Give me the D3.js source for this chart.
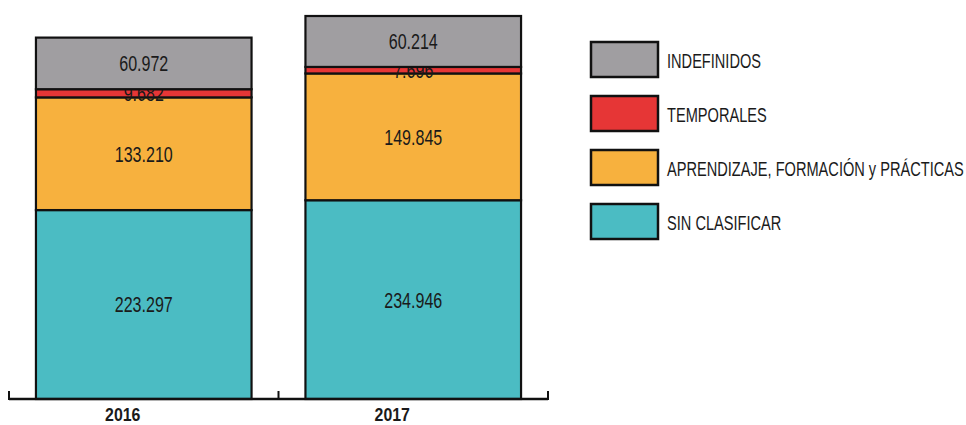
<!DOCTYPE html>
<html>
<head>
<meta charset="utf-8">
<script src="https://cdn.jsdelivr.net/npm/d3@7"></script>
<style>
  html, body { margin: 0; padding: 0; background: #fff; }
  svg { display: block; }
  text { font-family: "Liberation Sans", Arial, sans-serif; fill: #1a1a1a; }
</style>
</head>
<body>
<svg id="chart" width="966" height="425"></svg>
<script>
// Contratos por tipo, 2016–2017
const years = ["2016", "2017"];
const seriesKeys = ["sinClasificar", "aprendizaje", "temporales", "indefinidos"];
const seriesNames = ["SIN CLASIFICAR", "APRENDIZAJE, FORMACIÓN y PRÁCTICAS", "TEMPORALES", "INDEFINIDOS"];
const seriesColors = ["#4bbcc3", "#f7b13e", "#e63636", "#a09ea1"];
const sinClasificar = [223.297, 234.946];
const aprendizaje = [133.210, 149.845];
const temporales = [9.682, 7.696];
const indefinidos = [60.972, 60.214];

const rows = years.map((y, i) => ({
  year: y,
  sinClasificar: sinClasificar[i],
  aprendizaje: aprendizaje[i],
  temporales: temporales[i],
  indefinidos: indefinidos[i]
}));

const fmt = v => v.toFixed(3);
// narrow lettering: horizontal squeeze applied to the text glyphs
const NARROW = 0.73;

const svg = d3.select("#chart");

const axisLeft = 9, axisRight = 548, baseY = 399, topY = 16;

const x = d3.scaleBand().domain(years).range([axisLeft, axisRight]).padding(0);
const barW = x.bandwidth() * 0.8;

const stacked = d3.stack().keys(seriesKeys)(rows);
const totals = rows.map(r => d3.sum(seriesKeys, k => r[k]));

const y = d3.scaleLinear().domain([0, d3.max(totals)]).range([baseY, topY]);

const color = d3.scaleOrdinal().domain(seriesKeys).range(seriesColors);

// stacked segments
const layers = svg.append("g").selectAll("g")
  .data(stacked)
  .join("g")
  .attr("fill", d => color(d.key));

layers.selectAll("rect")
  .data(d => d.map(s => ({ s, key: d.key })))
  .join("rect")
  .attr("x", d => x(d.s.data.year) + (x.bandwidth() - barW) / 2)
  .attr("width", barW)
  .attr("y", d => y(d.s[1]))
  .attr("height", d => y(d.s[0]) - y(d.s[1]))
  .attr("stroke", "#111")
  .attr("stroke-width", 2.2);

// value labels
layers.selectAll("text")
  .data(d => d.map(s => ({ s, key: d.key })))
  .join("text")
  .attr("transform", d => `translate(${x(d.s.data.year) + x.bandwidth() / 2},${(y(d.s[0]) + y(d.s[1])) / 2}) scale(${NARROW},1)`)
  .attr("dy", "0.36em")
  .attr("text-anchor", "middle")
  .attr("font-size", 22)
  .text(d => fmt(d.s[1] - d.s[0]));

// category axis along the base
const axis = d3.axisBottom(x).tickSize(0).tickFormat("");
const axisG = svg.append("g").attr("transform", `translate(0,${baseY})`).call(axis);
axisG.select(".domain").remove();
axisG.append("line")
  .attr("x1", axisLeft).attr("x2", axisRight)
  .attr("stroke", "#111").attr("stroke-width", 2.5);
const bounds = [axisLeft, ...years.map(yr => x(yr) + x.bandwidth())];
axisG.selectAll(".sep")
  .data(bounds)
  .join("line")
  .attr("class", "sep")
  .attr("x1", d => d).attr("x2", d => d)
  .attr("y1", -8).attr("y2", 1)
  .attr("stroke", "#111").attr("stroke-width", 2);

axisG.selectAll(".yr")
  .data(years)
  .join("text")
  .attr("class", "yr")
  .attr("transform", d => `translate(${x(d) + x.bandwidth() / 2 - 21},21.5) scale(0.86,1)`)
  .attr("text-anchor", "middle")
  .attr("font-size", 18.5)
  .attr("font-weight", "bold")
  .text(d => d);

// legend
const legendOrder = seriesKeys.slice().reverse();
const legend = svg.append("g").attr("transform", "translate(591,42)");
const item = legend.selectAll("g")
  .data(legendOrder)
  .join("g")
  .attr("transform", (d, i) => `translate(0,${i * 54})`);
item.append("rect")
  .attr("width", 67).attr("height", 35)
  .attr("fill", d => color(d))
  .attr("stroke", "#111").attr("stroke-width", 2.5);
item.append("text")
  .attr("transform", `translate(76,19) scale(${NARROW},1)`)
  .attr("dy", "0.36em")
  .attr("font-size", 20)
  .text(d => seriesNames[seriesKeys.indexOf(d)]);
</script>
</body>
</html>
